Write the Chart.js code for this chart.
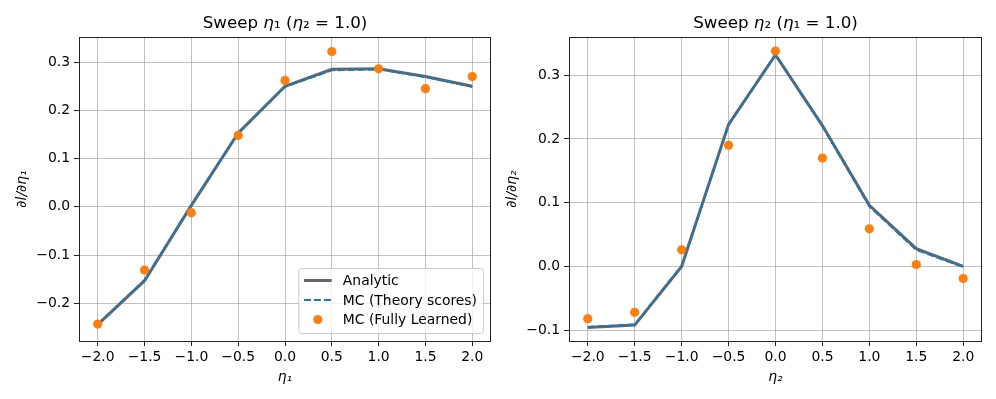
<!DOCTYPE html>
<html>
<head>
<meta charset="utf-8">
<script src="https://cdn.jsdelivr.net/npm/chart.js@4.4.0/dist/chart.umd.min.js"></script>
<style>
    html, body { margin: 0; padding: 0; background: #fff; }
    #wrap { position: relative; width: 996px; height: 399px; }
    .panel { position: absolute; top: 0; width: 498px; height: 399px; }
</style>
</head>
<body>
<div id="wrap">
    <div class="panel" style="left:0"><canvas id="chartEta1" width="498" height="399"></canvas></div>
    <div class="panel" style="left:498px"><canvas id="chartEta2" width="498" height="399"></canvas></div>
</div>
<script>
// x values (eta grid) shared by both sweeps
var etaValues = [-2.0, -1.5, -1.0, -0.5, 0.0, 0.5, 1.0, 1.5, 2.0];
var xTickValues = [-2.0, -1.5, -1.0, -0.5, 0.0, 0.5, 1.0, 1.5, 2.0];

// Sweep eta1 (eta2 = 1.0)
var sweep1Analytic = [-0.244, -0.153, 0.003, 0.153, 0.250, 0.285, 0.286, 0.270, 0.250];
var sweep1Theory   = [-0.243, -0.152, 0.004, 0.152, 0.249, 0.283, 0.285, 0.269, 0.249];
var sweep1Learned  = [-0.243, -0.131, -0.012, 0.148, 0.262, 0.322, 0.286, 0.245, 0.270];
var sweep1YTicks   = [-0.2, -0.1, 0.0, 0.1, 0.2, 0.3];

// Sweep eta2 (eta1 = 1.0)
var sweep2Analytic = [-0.096, -0.092, 0.000, 0.223, 0.332, 0.221, 0.096, 0.028, 0.000];
var sweep2Theory   = [-0.095, -0.091, 0.001, 0.222, 0.333, 0.220, 0.094, 0.026, -0.001];
var sweep2Learned  = [-0.082, -0.072, 0.026, 0.190, 0.338, 0.170, 0.059, 0.003, -0.019];
var sweep2YTicks   = [-0.1, 0.0, 0.1, 0.2, 0.3];

var FONT = "'DejaVu Sans', sans-serif";
var GREY = '#666666';
var BLUE = '#1f77b4';
var ORANGE = '#ff7f0e';

function toPoints(ys) {
    return etaValues.map(function (x, i) { return { x: x, y: ys[i] }; });
}

function fmt(v) {
    return v.toFixed(1).replace('-', '\u2212');
}

// frame, mixed-style title and in-axes legend, matplotlib style
var mplPlugin = {
    id: 'mpl',
    afterDraw: function (chart, args, opts) {
        var ctx = chart.ctx;
        var a = chart.chartArea;
        ctx.save();

        // frame round the axes
        ctx.strokeStyle = '#222';
        ctx.lineWidth = 1;
        ctx.strokeRect(Math.round(a.left) + 0.5, Math.round(a.top) + 0.5,
            Math.round(a.right - a.left) - 1, Math.round(a.bottom - a.top));

        // title made of pieces: [text, italic?]
        var parts = opts.title;
        var size = 16.7;
        var widths = parts.map(function (p) {
            ctx.font = (p[1] ? 'italic ' : '') + size + 'px ' + FONT;
            return ctx.measureText(p[0]).width;
        });
        var total = widths.reduce(function (s, w) { return s + w; }, 0);
        var x = (a.left + a.right) / 2 - total / 2;
        ctx.fillStyle = '#000';
        ctx.textBaseline = 'alphabetic';
        ctx.textAlign = 'left';
        parts.forEach(function (p, i) {
            ctx.font = (p[1] ? 'italic ' : '') + size + 'px ' + FONT;
            ctx.fillText(p[0], x, 28);
            x += widths[i];
        });

        if (opts.legend) {
            var items = chart.data.datasets;
            ctx.font = '13.9px ' + FONT;
            var maxW = 0;
            items.forEach(function (d) { maxW = Math.max(maxW, ctx.measureText(d.label).width); });
            var bw = 44.5 + maxW + 6;
            var bh = 65;
            var bx = a.right - 8 - bw;
            var by = a.bottom - 8 - bh;
            ctx.beginPath();
            ctx.roundRect(bx + 0.5, by + 0.5, bw, bh, 3);
            ctx.fillStyle = 'rgba(255,255,255,0.8)';
            ctx.fill();
            ctx.strokeStyle = '#cccccc';
            ctx.lineWidth = 1;
            ctx.stroke();
            items.forEach(function (d, i) {
                var cy = by + 12.5 + i * 19.5;
                if (d.showLine) {
                    ctx.beginPath();
                    ctx.setLineDash(d.borderDash || []);
                    ctx.strokeStyle = d.borderColor;
                    ctx.lineWidth = d.borderWidth;
                    ctx.moveTo(bx + 5.6, cy);
                    ctx.lineTo(bx + 33.4, cy);
                    ctx.stroke();
                    ctx.setLineDash([]);
                } else {
                    ctx.beginPath();
                    ctx.fillStyle = d.backgroundColor;
                    ctx.arc(bx + 19.5, cy, 4.6, 0, Math.PI * 2);
                    ctx.fill();
                }
                ctx.fillStyle = '#000';
                ctx.textBaseline = 'middle';
                ctx.fillText(d.label, bx + 44.5, cy + 1);
            });
        }
        ctx.restore();
    }
};

function makeChart(id, cfg) {
    var ctx = document.getElementById(id).getContext('2d');
    return new Chart(ctx, {
        type: 'scatter',
        data: {
            datasets: [
                {
                    label: 'Analytic',
                    data: toPoints(cfg.analytic),
                    showLine: true,
                    borderColor: GREY,
                    borderWidth: 3,
                    pointRadius: 0,
                    order: 3
                },
                {
                    label: 'MC (Theory scores)',
                    data: toPoints(cfg.theory),
                    showLine: true,
                    borderColor: BLUE,
                    borderWidth: 2,
                    borderDash: [7, 3],
                    pointRadius: 0,
                    order: 2
                },
                {
                    label: 'MC (Fully Learned)',
                    data: toPoints(cfg.learned),
                    showLine: false,
                    backgroundColor: ORANGE,
                    borderColor: ORANGE,
                    pointRadius: 4.6,
                    pointBorderWidth: 0,
                    order: 1
                }
            ]
        },
        options: {
            responsive: false,
            animation: false,
            devicePixelRatio: 1,
            layout: { padding: { top: 37, right: cfg.padRight, left: 0, bottom: 0 } },
            plugins: {
                legend: { display: false },
                title: { display: false },
                tooltip: { enabled: false },
                mpl: { title: cfg.title, legend: cfg.legend }
            },
            scales: {
                x: {
                    type: 'linear',
                    min: -2.2,
                    max: 2.2,
                    afterBuildTicks: function (s) {
                        s.ticks = xTickValues.map(function (v) { return { value: v }; });
                    },
                    afterFit: function (s) { s.height = 58; },
                    ticks: {
                        callback: function (v) { return fmt(v); },
                        color: '#000',
                        font: { family: FONT, size: 13.9 },
                        padding: 3,
                        maxRotation: 0
                    },
                    grid: { color: '#b0b0b0', lineWidth: 0.8, tickLength: 5, tickColor: '#222', tickWidth: 1 },
                    border: { display: false },
                    title: {
                        display: true,
                        text: cfg.xTitle,
                        color: '#000',
                        font: { family: FONT, size: 13.9, style: 'italic' },
                        padding: { top: 1, bottom: 13 }
                    }
                },
                y: {
                    type: 'linear',
                    min: cfg.yMin,
                    max: cfg.yMax,
                    afterBuildTicks: function (s) {
                        s.ticks = cfg.yTicks.map(function (v) { return { value: v }; });
                    },
                    afterFit: function (s) { s.width = cfg.yWidth; },
                    ticks: {
                        callback: function (v) { return fmt(v); },
                        color: '#000',
                        font: { family: FONT, size: 13.9 },
                        padding: 4
                    },
                    grid: { color: '#b0b0b0', lineWidth: 0.8, tickLength: 5, tickColor: '#222', tickWidth: 1 },
                    border: { display: false },
                    title: {
                        display: true,
                        text: cfg.yTitle,
                        color: '#000',
                        font: { family: FONT, size: 13.9, style: 'italic' },
                        padding: { top: cfg.yTitlePad, bottom: 4 }
                    }
                }
            }
        },
        plugins: [mplPlugin]
    });
}

makeChart('chartEta1', {
    analytic: sweep1Analytic,
    theory: sweep1Theory,
    learned: sweep1Learned,
    yTicks: sweep1YTicks,
    yMin: -0.278,
    yMax: 0.352,
    yWidth: 79,
    yTitlePad: 14,
    padRight: 7,
    xTitle: '\u03b7\u2081',
    yTitle: '\u2202l/\u2202\u03b7\u2081',
    title: [['Sweep ', false], ['\u03b7', true], ['\u2081 (', false], ['\u03b7', true], ['\u2082', false], [' = 1.0)', false]],
    legend: true
});

makeChart('chartEta2', {
    analytic: sweep2Analytic,
    theory: sweep2Theory,
    learned: sweep2Learned,
    yTicks: sweep2YTicks,
    yMin: -0.117,
    yMax: 0.360,
    yWidth: 71,
    yTitlePad: 6,
    padRight: 14,
    xTitle: '\u03b7\u2082',
    yTitle: '\u2202l/\u2202\u03b7\u2082',
    title: [['Sweep ', false], ['\u03b7', true], ['\u2082 (', false], ['\u03b7', true], ['\u2081', false], [' = 1.0)', false]],
    legend: false
});
</script>
</body>
</html>
